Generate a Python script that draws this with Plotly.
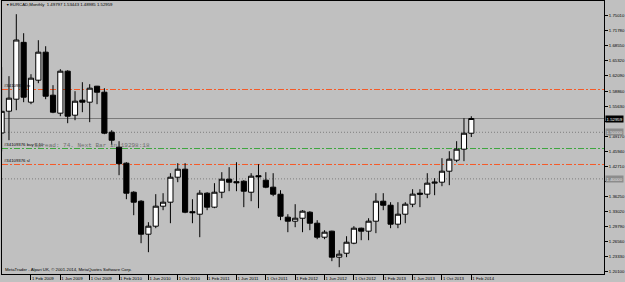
import plotly.graph_objects as go

# ---- data (monthly EURCAD candles, Oct 2008 .. Feb 2014) ----
months = ["Oct 2008", "Nov 2008", "Dec 2008",
          "Jan 2009", "Feb 2009", "Mar 2009", "Apr 2009", "May 2009", "Jun 2009",
          "Jul 2009", "Aug 2009", "Sep 2009", "Oct 2009", "Nov 2009", "Dec 2009",
          "Jan 2010", "Feb 2010", "Mar 2010", "Apr 2010", "May 2010", "Jun 2010",
          "Jul 2010", "Aug 2010", "Sep 2010", "Oct 2010", "Nov 2010", "Dec 2010",
          "Jan 2011", "Feb 2011", "Mar 2011", "Apr 2011", "May 2011", "Jun 2011",
          "Jul 2011", "Aug 2011", "Sep 2011", "Oct 2011", "Nov 2011", "Dec 2011",
          "Jan 2012", "Feb 2012", "Mar 2012", "Apr 2012", "May 2012", "Jun 2012",
          "Jul 2012", "Aug 2012", "Sep 2012", "Oct 2012", "Nov 2012", "Dec 2012",
          "Jan 2013", "Feb 2013", "Mar 2013", "Apr 2013", "May 2013", "Jun 2013",
          "Jul 2013", "Aug 2013", "Sep 2013", "Oct 2013", "Nov 2013", "Dec 2013",
          "Jan 2014", "Feb 2014"]

opens = [1.4985, 1.5453, 1.5710,
         1.6930, 1.5646, 1.6118, 1.6719, 1.5796, 1.5410,
         1.6311, 1.5367, 1.5689, 1.5646, 1.5989, 1.5860,
         1.5002, 1.4680, 1.4337, 1.3714, 1.3521, 1.2813,
         1.2985, 1.3414, 1.3500, 1.4036, 1.4208, 1.3296,
         1.3242, 1.3693, 1.3393, 1.3714, 1.3993, 1.3940,
         1.3950, 1.3714, 1.4068, 1.3972, 1.3822, 1.3671,
         1.3178, 1.3092, 1.3156, 1.3285, 1.3049, 1.2749,
         1.2878, 1.2320, 1.2405, 1.2620, 1.2942, 1.2878,
         1.3092, 1.3521, 1.3435, 1.3028, 1.3242, 1.3457,
         1.3693, 1.3672, 1.3908, 1.3929, 1.4165, 1.4401,
         1.4637, 1.49797]

highs = [1.6397, 1.6204, 1.7534,
         1.7126, 1.6247, 1.6976, 1.6847, 1.6011, 1.6354,
         1.6332, 1.5882, 1.6075, 1.6032, 1.5995, 1.5946,
         1.5045, 1.4809, 1.4358, 1.3736, 1.3543, 1.3071,
         1.3672, 1.3693, 1.4122, 1.4337, 1.4337, 1.3564,
         1.3757, 1.3714, 1.3908, 1.4144, 1.4251, 1.4358,
         1.3972, 1.4122, 1.4315, 1.4144, 1.4122, 1.3757,
         1.3242, 1.3457, 1.3328, 1.3307, 1.3114, 1.2899,
         1.2888, 1.2470, 1.2770, 1.2985, 1.2953, 1.3156,
         1.3693, 1.3693, 1.3500, 1.3500, 1.3500, 1.3779,
         1.3779, 1.4122, 1.4015, 1.4444, 1.4594, 1.4809,
         1.5302, 1.53443]

lows = [1.4590, 1.4830, 1.5474,
        1.5646, 1.5603, 1.6053, 1.5710, 1.5410, 1.5345,
        1.5195, 1.5259, 1.5431, 1.5217, 1.5603, 1.4959,
        1.4723, 1.4079, 1.3564, 1.3221, 1.2620, 1.2427,
        1.2942, 1.3328, 1.3049, 1.3929, 1.3264, 1.3049,
        1.2749, 1.3328, 1.3371, 1.3586, 1.3736, 1.3736,
        1.3393, 1.3521, 1.3371, 1.3800, 1.3629, 1.3114,
        1.2856, 1.2963, 1.2856, 1.2899, 1.2706, 1.2706,
        1.2234, 1.2105, 1.2320, 1.2599, 1.2684, 1.2684,
        1.2835, 1.3328, 1.2942, 1.2942, 1.3049, 1.3393,
        1.3393, 1.3586, 1.3650, 1.3843, 1.3865, 1.4358,
        1.4380, 1.48985]

closes = [1.5450, 1.5732, 1.6980,
          1.5753, 1.6161, 1.6719, 1.5774, 1.5431, 1.6311,
          1.5345, 1.5667, 1.5646, 1.5946, 1.5860, 1.4981,
          1.4830, 1.4326, 1.3693, 1.3500, 1.2813, 1.2985,
          1.3414, 1.3500, 1.4036, 1.4208, 1.3285, 1.3275,
          1.3693, 1.3393, 1.3714, 1.3993, 1.3929, 1.3918,
          1.3736, 1.4058, 1.4047, 1.3822, 1.3671, 1.3199,
          1.3092, 1.3156, 1.3307, 1.3049, 1.2749, 1.2856,
          1.2320, 1.2384, 1.2641, 1.2942, 1.2878, 1.3092,
          1.3521, 1.3435, 1.3028, 1.3242, 1.3457, 1.3672,
          1.3672, 1.3908, 1.3929, 1.4165, 1.4423, 1.4637,
          1.4980, 1.52959]

time_tick_labels = ["1 Oct 2008", "1 Feb 2009", "1 Jun 2009", "1 Oct 2009",
                    "1 Feb 2010", "1 Jun 2010", "1 Oct 2010", "1 Feb 2011",
                    "1 Jun 2011", "1 Oct 2011", "1 Feb 2012", "1 Jun 2012",
                    "1 Oct 2012", "1 Feb 2013", "1 Jun 2013", "1 Oct 2013",
                    "1 Feb 2014"]
time_tick_step = 4

price_tick_vals = [1.20100, 1.23330, 1.26560, 1.29790, 1.33020, 1.36250,
                   1.39480, 1.42710, 1.45940, 1.49170, 1.52400, 1.55630,
                   1.58860, 1.62090, 1.65320, 1.68550, 1.71780, 1.75010]
# labels hidden in the reference behind the price boxes
hidden_price_labels = [1.39480, 1.52400]

bid_price = 1.52959
tp_price = 1.5918
buy_price = 1.4652
sl_price = 1.4309
hline_prices = [1.5000, 1.4000]
order_ticket = "#34109376"
spread_text = "Spread: 74. Next Bar in 19298:18"
title_text = "EURCAD,Monthly\u00a0\u00a01.49797 1.53443 1.48985 1.52959"
copyright_text = "MetaTrader - Alpari UK, \u00a9 2001-2014, MetaQuotes Software Corp."

# ---- styling ----
BG = "#C0C0C0"
RED = "#F55A28"
GREEN = "#3FA640"
FONT = "Liberation Sans"
FS = 4.3

x_idx = list(range(len(opens)))
tick_idx = [i * time_tick_step for i in range(len(time_tick_labels))]
price_tick_text = ["" if v in hidden_price_labels else "%.5f" % v for v in price_tick_vals]

fig = go.Figure()

# order / indicator labels drawn beneath candles
fig.add_trace(go.Scatter(
    x=[0.32, 0.32, 0.32], y=[1.5990, 1.4723, 1.4380],
    text=[order_ticket + " tp", order_ticket + " buy 0.10", order_ticket + " sl"],
    mode="text", textposition="middle right",
    textfont=dict(family=FONT, size=FS, color="black"),
    hoverinfo="skip", showlegend=False))
fig.add_trace(go.Scatter(
    x=[4.45], y=[1.4712], text=[spread_text],
    mode="text", textposition="middle right",
    textfont=dict(family="Liberation Mono", size=6, color="#6e6e6e"),
    hoverinfo="skip", showlegend=False))

fig.add_trace(go.Candlestick(
    x=x_idx, open=opens, high=highs, low=lows, close=closes,
    text=months, hoverinfo="text+x",
    increasing=dict(line=dict(color="black", width=1), fillcolor="white"),
    decreasing=dict(line=dict(color="black", width=1), fillcolor="black"),
    whiskerwidth=0, showlegend=False))

shapes = []
def hline(y, color, dash, width=1):
    shapes.append(dict(type="line", xref="paper", x0=0, x1=1, yref="y", y0=y, y1=y,
                       line=dict(color=color, width=width, dash=dash), layer="below"))

hline(tp_price, RED, "6px,2px,2px,2px")
hline(bid_price, "#7a7a7a", "solid")
for hp in hline_prices:
    hline(hp, "#7e7e7e", "1px,2px")
hline(buy_price, GREEN, "6px,2px,2px,2px")
hline(sl_price, RED, "6px,2px,2px,2px")

annotations = [
    dict(xref="paper", yref="paper", x=0.0025, y=0.986, xanchor="left", yanchor="middle",
         text="\u25bc", showarrow=False, font=dict(family=FONT, size=3.5, color="black")),
    dict(xref="paper", yref="paper", x=0.010, y=0.986, xanchor="left", yanchor="middle",
         text=title_text, showarrow=False, font=dict(family=FONT, size=FS, color="black")),
    dict(xref="paper", yref="paper", x=0.002, y=0.015, xanchor="left", yanchor="middle",
         text=copyright_text, showarrow=False, font=dict(family=FONT, size=FS, color="black")),
    dict(xref="paper", yref="y", x=1, y=bid_price, xanchor="left", yanchor="middle",
         xshift=1, text="%.5f" % bid_price, showarrow=False, bgcolor="black",
         borderpad=0.6, font=dict(family=FONT, size=FS, color="white")),
]
for hp in hline_prices:
    annotations.append(dict(xref="paper", yref="y", x=1, y=hp, xanchor="left", yanchor="middle",
                            xshift=1, text="%.5f" % hp, showarrow=False, bgcolor="#8c8c8c",
                            borderpad=0.6, font=dict(family=FONT, size=FS, color="#e8e8e8")))

fig.update_layout(
    width=625, height=282,
    margin=dict(l=2, r=21, t=1, b=8, pad=0),
    paper_bgcolor=BG, plot_bgcolor=BG,
    showlegend=False,
    boxgap=0.3, boxgroupgap=0,
    shapes=shapes, annotations=annotations,
    xaxis=dict(range=[0.05, 82.08], tickmode="array", tickvals=tick_idx, ticktext=time_tick_labels,
               ticks="outside", ticklen=5, tickcolor="black", tickwidth=1, tickangle=0,
               ticklabelposition="outside right", ticklabelstandoff=0,
               tickfont=dict(family=FONT, size=FS, color="black"),
               showgrid=False, zeroline=False, showline=True, linecolor="black", linewidth=1,
               mirror=True, rangeslider=dict(visible=False), automargin=False, fixedrange=True),
    yaxis=dict(range=[1.1959, 1.78173], side="right", tickmode="array",
               tickvals=price_tick_vals, ticktext=price_tick_text,
               ticks="outside", ticklen=3, tickcolor="black", tickwidth=1,
               tickfont=dict(family=FONT, size=FS, color="black"),
               showgrid=False, zeroline=False, showline=True, linecolor="black", linewidth=1,
               mirror=True, automargin=False, fixedrange=True),
)

fig.write_html("out.html")
